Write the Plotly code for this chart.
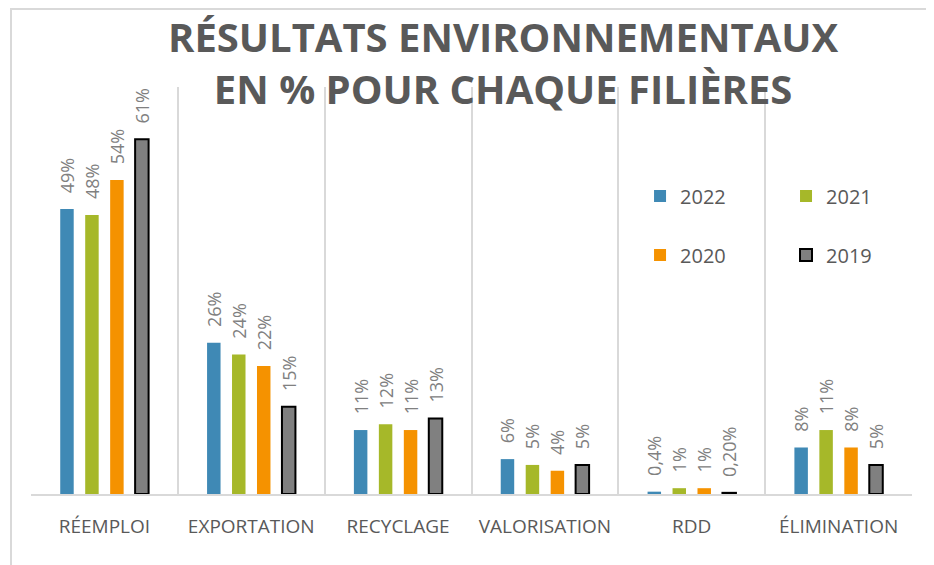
import plotly.graph_objects as go

categories = ["RÉEMPLOI", "EXPORTATION", "RECYCLAGE", "VALORISATION", "RDD", "ÉLIMINATION"]
years = ["2022", "2021", "2020", "2019"]
v2022 = [49, 26, 11, 6, 0.4, 8]
v2021 = [48, 24, 12, 5, 1, 11]
v2020 = [54, 22, 11, 4, 1, 8]
v2019 = [61, 15, 13, 5, 0.2, 5]
labels2022 = ["49%", "26%", "11%", "6%", "0,4%", "8%"]
labels2021 = ["48%", "24%", "12%", "5%", "1%", "11%"]
labels2020 = ["54%", "22%", "11%", "4%", "1%", "8%"]
labels2019 = ["61%", "15%", "13%", "5%", "0,20%", "5%"]
title_text = "RÉSULTATS ENVIRONNEMENTAUX<br>EN % POUR CHAQUE FILIÈRES"

series = [
    ("2022", v2022, labels2022, "#3f89b5", None, "legend"),
    ("2021", v2021, labels2021, "#a6b829", None, "legend2"),
    ("2020", v2020, labels2020, "#f59200", None, "legend3"),
    ("2019", v2019, labels2019, "#808080", "#000000", "legend4"),
]

FONT = "Open Sans"
LABEL_GAP = 2.2  # visual spacing between bar top and its data label (axis units)

fig = go.Figure()
for name, vals, labs, color, lc, lg in series:
    fig.add_trace(go.Bar(
        name=name, x=categories, y=vals, offsetgroup=name,
        marker=dict(color=color,
                    line=dict(color=lc if lc else color, width=2 if lc else 0)),
        legend=lg, hoverinfo="x+y",
    ))
    # transparent spacer carrying the data label above each bar
    fig.add_trace(go.Bar(
        name=name, x=categories, y=[LABEL_GAP] * len(vals), base=vals,
        offsetgroup=name, text=labs,
        textposition="outside", textangle=-90, constraintext="none",
        textfont=dict(family=FONT, size=18, color="#808080"),
        marker=dict(color="rgba(0,0,0,0)", line=dict(width=0)),
        cliponaxis=False, showlegend=False, hoverinfo="skip",
    ))

def leg(x, y):
    return dict(orientation="v", x=x, y=y, xanchor="left", yanchor="top",
                font=dict(size=20, color="#595959"), bgcolor="rgba(0,0,0,0)")

fig.update_layout(
    width=926, height=557,
    margin=dict(l=23, r=22, t=79, b=71),
    paper_bgcolor="white", plot_bgcolor="white",
    barmode="group", bargap=0.32, bargroupgap=0.46,
    font=dict(family=FONT, color="#595959"),
    showlegend=True,
    legend=leg(0.6913, 0.78),
    legend2=leg(0.857, 0.78),
    legend3=leg(0.6913, 0.635),
    legend4=leg(0.857, 0.635),
    xaxis=dict(range=[-0.5, 5.5], tickson="boundaries", showgrid=True,
               gridcolor="#d9d9d9", gridwidth=1.5,
               showline=True, linecolor="#d9d9d9", linewidth=2, ticks="",
               tickfont=dict(family=FONT, size=19, color="#595959"),
               ticklabelstandoff=14),
    yaxis=dict(range=[0, 70], visible=False, showgrid=False),
    annotations=[dict(text="<b>" + title_text + "</b>", xref="paper", yref="paper",
                      x=0.5358, y=1.197, xanchor="center", yanchor="top", showarrow=False,
                      font=dict(family=FONT, size=40, color="#595959"))],
    shapes=[dict(type="rect", xref="paper", yref="paper",
                 x0=-0.0227, x1=1.0193, y0=-0.2, y1=1.1916,
                 line=dict(color="#d9d9d9", width=2), layer="below")],
)

fig.write_html("out.html")
